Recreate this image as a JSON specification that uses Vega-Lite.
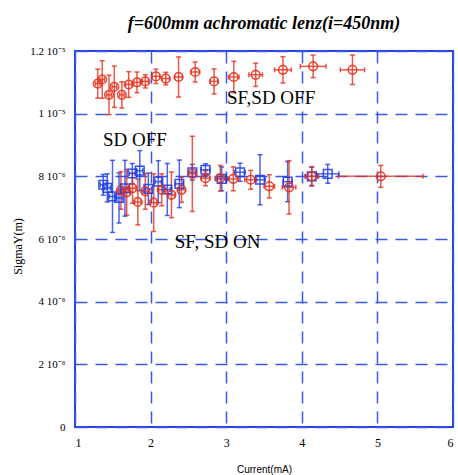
{
  "$schema": "https://vega.github.io/schema/vega-lite/v6.json",
  "width": 378,
  "height": 376,
  "autosize": "none",
  "padding": {"left": 75, "top": 51, "right": 5, "bottom": 48},
  "background": "white",
  "title": {
    "text": "f=600mm achromatic lenz(i=450nm)",
    "font": "Liberation Serif",
    "fontSize": 18,
    "fontStyle": "italic",
    "fontWeight": "bold",
    "color": "black",
    "anchor": "middle",
    "offset": 12
  },
  "config": {
    "view": {"stroke": "#2442e0", "strokeWidth": 2},
    "axis": {
      "grid": true,
      "gridColor": "#3a5ae6",
      "gridDash": [12, 8],
      "gridWidth": 1.5,
      "domain": false,
      "ticks": false,
      "labelColor": "black",
      "labelFont": "Liberation Serif",
      "labelFontSize": 12,
      "titleColor": "black",
      "titleFontWeight": "normal"
    }
  },
  "datasets": {
    "pts": [
      {"series": "SF,SD OFF", "x": 1.30, "y": 1.096e-5, "ey": 4.6e-7, "ex": 0.03},
      {"series": "SF,SD OFF", "x": 1.36, "y": 1.109e-5, "ey": 6.0e-7, "ex": 0.03},
      {"series": "SF,SD OFF", "x": 1.45, "y": 1.060e-5, "ey": 6.3e-7, "ex": 0.03},
      {"series": "SF,SD OFF", "x": 1.52, "y": 1.086e-5, "ey": 6.6e-7, "ex": 0.03},
      {"series": "SF,SD OFF", "x": 1.62, "y": 1.060e-5, "ey": 4.2e-7, "ex": 0.03},
      {"series": "SF,SD OFF", "x": 1.71, "y": 1.093e-5, "ey": 4.1e-7, "ex": 0.04},
      {"series": "SF,SD OFF", "x": 1.82, "y": 1.100e-5, "ey": 3.3e-7, "ex": 0.04},
      {"series": "SF,SD OFF", "x": 1.93, "y": 1.103e-5, "ey": 2.1e-7, "ex": 0.04},
      {"series": "SF,SD OFF", "x": 2.07, "y": 1.119e-5, "ey": 2.3e-7, "ex": 0.05},
      {"series": "SF,SD OFF", "x": 2.20, "y": 1.112e-5, "ey": 2.0e-7, "ex": 0.05},
      {"series": "SF,SD OFF", "x": 2.37, "y": 1.117e-5, "ey": 6.4e-7, "ex": 0.05},
      {"series": "SF,SD OFF", "x": 2.59, "y": 1.133e-5, "ey": 3.2e-7, "ex": 0.06},
      {"series": "SF,SD OFF", "x": 2.84, "y": 1.103e-5, "ey": 4.0e-7, "ex": 0.05},
      {"series": "SF,SD OFF", "x": 3.10, "y": 1.117e-5, "ey": 5.0e-7, "ex": 0.07},
      {"series": "SF,SD OFF", "x": 3.39, "y": 1.124e-5, "ey": 3.7e-7, "ex": 0.09},
      {"series": "SF,SD OFF", "x": 3.75, "y": 1.140e-5, "ey": 4.2e-7, "ex": 0.11},
      {"series": "SF,SD OFF", "x": 4.15, "y": 1.151e-5, "ey": 3.6e-7, "ex": 0.17},
      {"series": "SF,SD OFF", "x": 4.67, "y": 1.140e-5, "ey": 4.7e-7, "ex": 0.16},
      {"series": "SD OFF", "x": 1.374, "y": 7.73e-6, "ey": 3.3e-7, "ex": 0.04},
      {"series": "SD OFF", "x": 1.427, "y": 7.63e-6, "ey": 4.5e-7, "ex": 0.04},
      {"series": "SD OFF", "x": 1.496, "y": 7.36e-6, "ey": 1.15e-6, "ex": 0.04},
      {"series": "SD OFF", "x": 1.582, "y": 7.31e-6, "ey": 8.0e-7, "ex": 0.04},
      {"series": "SD OFF", "x": 1.661, "y": 7.62e-6, "ey": 8.9e-7, "ex": 0.04},
      {"series": "SD OFF", "x": 1.758, "y": 8.09e-6, "ey": 3.2e-7, "ex": 0.04},
      {"series": "SD OFF", "x": 1.857, "y": 8.18e-6, "ey": 6.4e-7, "ex": 0.04},
      {"series": "SD OFF", "x": 1.970, "y": 7.60e-6, "ey": 5.0e-7, "ex": 0.04},
      {"series": "SD OFF", "x": 2.102, "y": 7.83e-6, "ey": 6.7e-7, "ex": 0.04},
      {"series": "SD OFF", "x": 2.221, "y": 7.58e-6, "ey": 8.3e-7, "ex": 0.04},
      {"series": "SD OFF", "x": 2.380, "y": 7.76e-6, "ey": 7.6e-7, "ex": 0.05},
      {"series": "SD OFF", "x": 2.552, "y": 8.13e-6, "ey": 2.5e-7, "ex": 0.05},
      {"series": "SD OFF", "x": 2.726, "y": 8.21e-6, "ey": 1.9e-7, "ex": 0.06},
      {"series": "SD OFF", "x": 2.940, "y": 7.92e-6, "ey": 3.8e-7, "ex": 0.08},
      {"series": "SD OFF", "x": 3.183, "y": 8.13e-6, "ey": 2.9e-7, "ex": 0.07},
      {"series": "SD OFF", "x": 3.447, "y": 7.89e-6, "ey": 8.0e-7, "ex": 0.07},
      {"series": "SD OFF", "x": 3.813, "y": 7.83e-6, "ey": 6.4e-7, "ex": 0.06},
      {"series": "SD OFF", "x": 4.131, "y": 8.00e-6, "ey": 2.9e-7, "ex": 0.08},
      {"series": "SD OFF", "x": 4.343, "y": 8.08e-6, "ey": 3.0e-7, "ex": 0.15},
      {"series": "SF, SD ON", "x": 1.608, "y": 7.55e-6, "ey": 6.0e-7, "ex": 0.04},
      {"series": "SF, SD ON", "x": 1.684, "y": 7.49e-6, "ey": 7.3e-7, "ex": 0.04},
      {"series": "SF, SD ON", "x": 1.761, "y": 7.62e-6, "ey": 4.8e-7, "ex": 0.04},
      {"series": "SF, SD ON", "x": 1.831, "y": 7.18e-6, "ey": 7.3e-7, "ex": 0.04},
      {"series": "SF, SD ON", "x": 1.930, "y": 7.52e-6, "ey": 5.7e-7, "ex": 0.04},
      {"series": "SF, SD ON", "x": 2.041, "y": 7.16e-6, "ey": 9.2e-7, "ex": 0.04},
      {"series": "SF, SD ON", "x": 2.147, "y": 7.57e-6, "ey": 5.1e-7, "ex": 0.04},
      {"series": "SF, SD ON", "x": 2.276, "y": 7.41e-6, "ey": 7.3e-7, "ex": 0.04},
      {"series": "SF, SD ON", "x": 2.409, "y": 7.57e-6, "ey": 4.0e-7, "ex": 0.05},
      {"series": "SF, SD ON", "x": 2.552, "y": 8.08e-6, "ey": 1.2e-6, "ex": 0.05},
      {"series": "SF, SD ON", "x": 2.726, "y": 7.94e-6, "ey": 2.4e-7, "ex": 0.06},
      {"series": "SF, SD ON", "x": 2.922, "y": 7.94e-6, "ey": 4.1e-7, "ex": 0.07},
      {"series": "SF, SD ON", "x": 3.094, "y": 7.92e-6, "ey": 3.8e-7, "ex": 0.07},
      {"series": "SF, SD ON", "x": 3.324, "y": 7.89e-6, "ey": 3.0e-7, "ex": 0.08},
      {"series": "SF, SD ON", "x": 3.570, "y": 7.68e-6, "ey": 3.7e-7, "ex": 0.07},
      {"series": "SF, SD ON", "x": 3.831, "y": 7.65e-6, "ey": 8.5e-7, "ex": 0.09},
      {"series": "SF, SD ON", "x": 4.131, "y": 8.00e-6, "ey": 3.1e-7, "ex": 0.09},
      {"series": "SF, SD ON", "x": 5.044, "y": 8.00e-6, "ey": 3.5e-7, "ex": 0.56}
    ],
    "notes": [
      {"label": "SF,SD OFF", "x": 3.01, "y": 1.030e-5},
      {"label": "SD OFF", "x": 1.37, "y": 8.97e-6},
      {"label": "SF, SD ON", "x": 2.32, "y": 5.70e-6}
    ]
  },
  "encoding": {
    "x": {"field": "x", "type": "quantitative", "scale": {"domain": [1, 6], "nice": false, "zero": false},
      "axis": {"values": [1, 2, 3, 4, 5, 6], "format": "d", "labelFont": "Liberation Serif", "labelFontSize": 12, "labelPadding": 10,
        "title": "Current(mA)", "titleFont": "Liberation Sans", "titleFontSize": 10, "titlePadding": 16}},
    "y": {"field": "y", "type": "quantitative", "scale": {"domain": [0, 1.2e-5], "nice": false},
      "axis": {"values": [0, 2e-6, 4e-6, 6e-6, 8e-6, 1e-5, 1.2e-5], "labelPadding": 10, "labelFont": "Liberation Serif", "labelFontSize": 11,
        "labelExpr": "datum.value == 0 ? '0' : (datum.value > 9e-6 ? format(datum.value*1e5, '.2~f') + ' 10⁻⁵' : format(datum.value*1e6, '.0f') + ' 10⁻⁶')",
        "title": "SigmaY(m)", "titleFont": "Liberation Serif", "titleFontSize": 12, "titleX": -54, "titleY": 195, "titleAngle": -90, "titleAlign": "center", "titleBaseline": "alphabetic"}}
  },
  "layer": [
    {
      "data": {"name": "pts"},
      "mark": {"type": "errorbar", "ticks": true, "thickness": 1.5, "opacity": 0.8},
      "encoding": {
        "yError": {"field": "ey"},
        "color": {"field": "series", "type": "nominal", "scale": {"domain": ["SF,SD OFF", "SD OFF", "SF, SD ON"], "range": ["#e8301c", "#1f3fe6", "#e8301c"]}, "legend": null}
      }
    },
    {
      "data": {"name": "pts"},
      "mark": {"type": "errorbar", "ticks": true, "thickness": 1.5, "opacity": 0.8},
      "encoding": {
        "xError": {"field": "ex"},
        "color": {"field": "series", "type": "nominal", "legend": null}
      }
    },
    {
      "data": {"name": "pts"},
      "mark": {"type": "point", "filled": false, "size": 75, "strokeWidth": 1.5, "opacity": 0.9},
      "encoding": {
        "shape": {"field": "series", "type": "nominal", "scale": {"domain": ["SF,SD OFF", "SD OFF", "SF, SD ON"], "range": ["circle", "square", "circle"]}, "legend": null},
        "color": {"field": "series", "type": "nominal", "legend": null}
      }
    },
    {
      "data": {"name": "notes"},
      "mark": {"type": "text", "align": "left", "baseline": "alphabetic", "font": "Liberation Serif", "fontSize": 19, "color": "black"},
      "encoding": {
        "text": {"field": "label"}
      }
    }
  ]
}
